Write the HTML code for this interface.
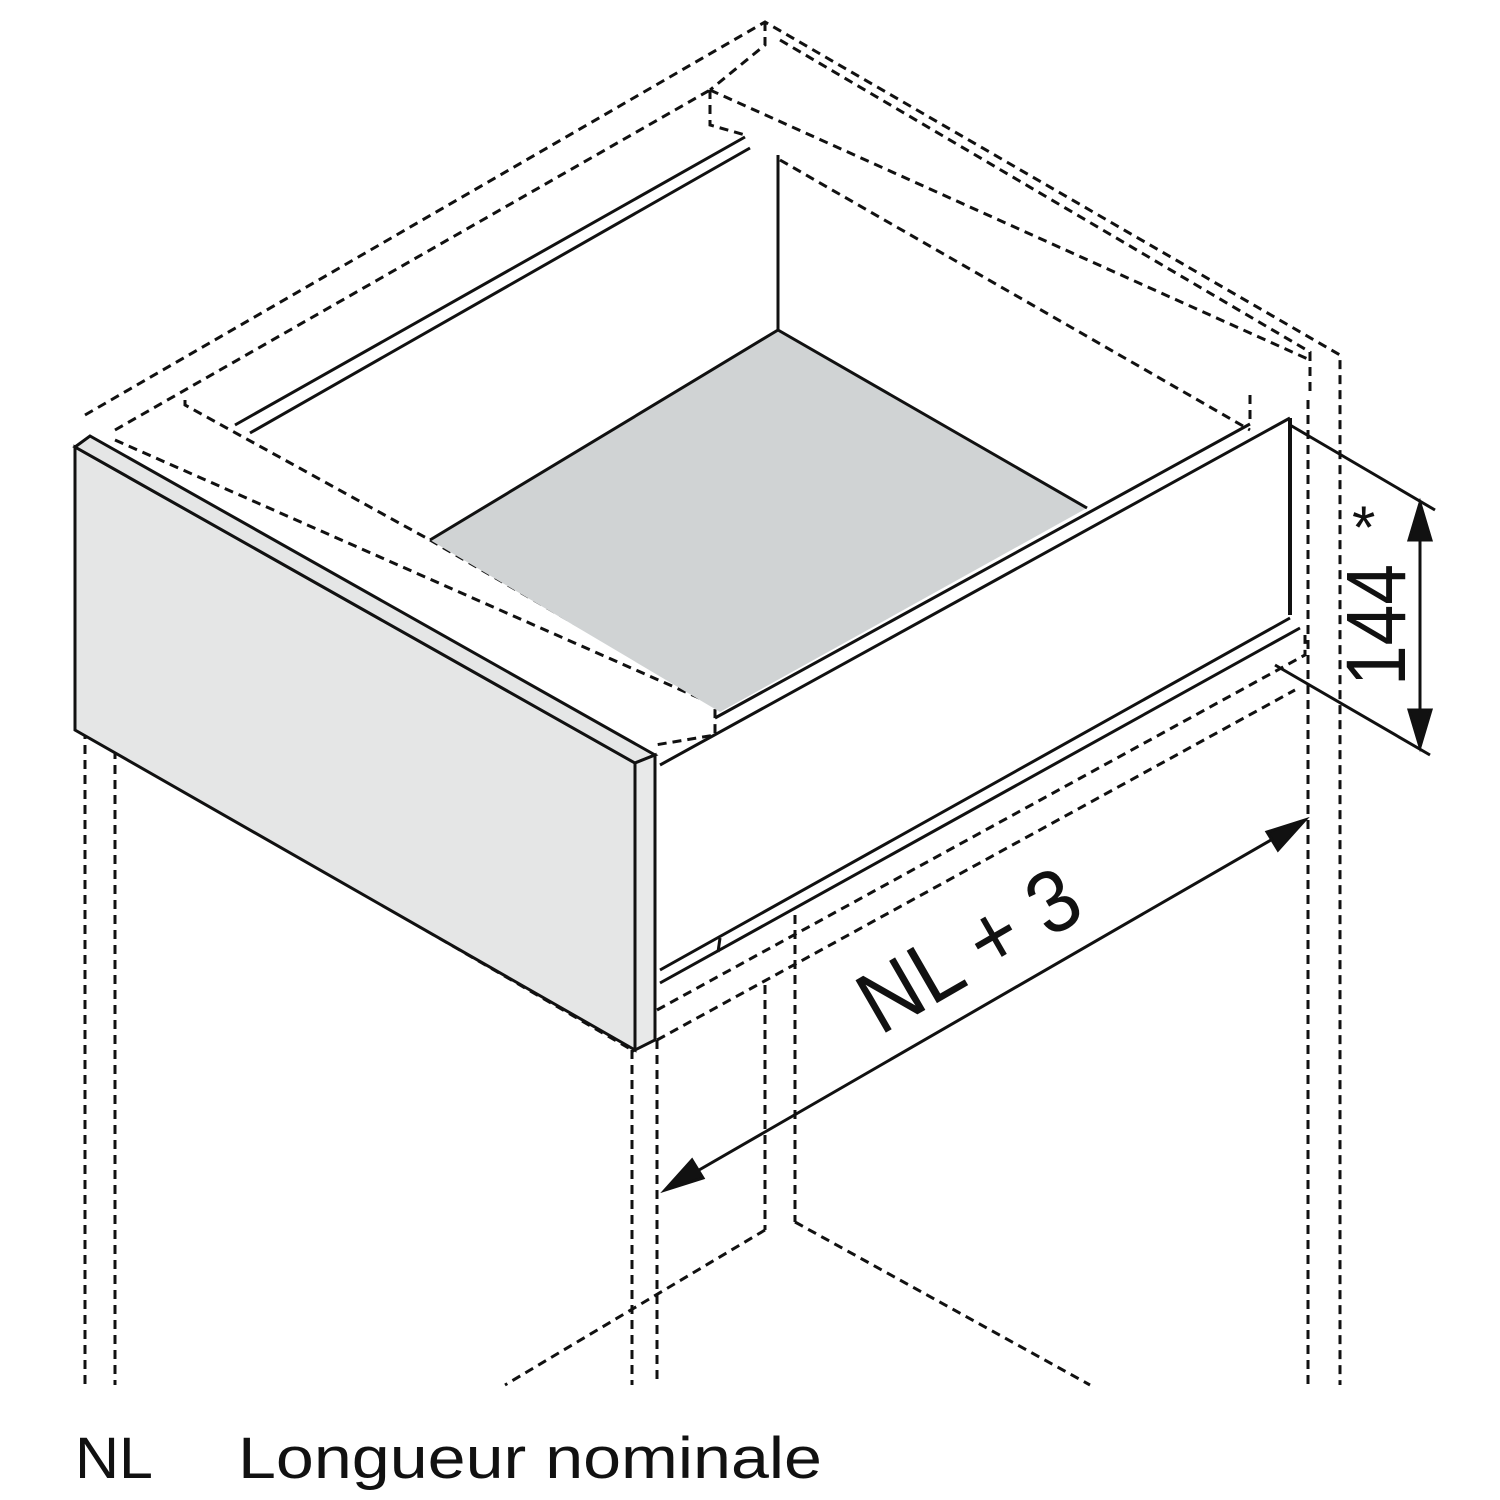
<!DOCTYPE html>
<html><head><style>
html,body{margin:0;padding:0;background:#fff;width:1500px;height:1500px;overflow:hidden}
svg{display:block}
text{font-family:"Liberation Sans",sans-serif;fill:#111}
</style></head><body>
<svg width="1500" height="1500" viewBox="0 0 1500 1500">
<g stroke="#111" stroke-width="3" fill="none" stroke-dasharray="9,6">
<polyline points="85,415 765,22 1340,355 1340,1385"/>
<polyline points="115,430 710,90"/>
<polyline points="780,40 1310,352 1310,395"/>
<polyline points="710,90 710,125 745,135"/>
<polyline points="765,22 765,45 710,90"/>
<polyline points="710,90 1310,360"/>
<polyline points="780,160 1250,430"/>
<polyline points="1250,395 1250,425"/>
<polyline points="185,400 185,405 430,540"/>
<polyline points="115,440 715,705 715,735 655,745"/>
<polyline points="430,540 715,705"/>
<line x1="85" y1="730" x2="85" y2="1385"/>
<line x1="115" y1="750" x2="115" y2="1385"/>
<line x1="632" y1="1050" x2="632" y2="1385"/>
<line x1="657" y1="1040" x2="657" y2="1385"/>
<line x1="765" y1="985" x2="765" y2="1230"/>
<line x1="795" y1="915" x2="795" y2="1222"/>
<line x1="1308" y1="400" x2="1308" y2="1385"/>
<line x1="115" y1="750" x2="632" y2="1050"/>
<polyline points="657,1010 1305,655 1305,635"/>
<polyline points="657,1040 1295,690"/>
<line x1="765" y1="1230" x2="505" y2="1385"/>
<line x1="795" y1="1222" x2="1090" y2="1385"/>
<line x1="655" y1="755" x2="655" y2="1040"/>
</g>
<polygon points="430,540 778,330 1087,508 720,712" fill="#d0d3d4" stroke="none"/>
<g stroke="#111" stroke-width="3" fill="none">
<line x1="430" y1="540" x2="778" y2="330"/>
<line x1="778" y1="330" x2="1087" y2="508"/>
<line x1="778" y1="155" x2="778" y2="330"/>
<line x1="235" y1="425" x2="745" y2="137"/>
<line x1="250" y1="433" x2="750" y2="148"/>
<line x1="660" y1="765" x2="1290" y2="418"/>
<line x1="715" y1="718" x2="1250" y2="424"/>
<line x1="1290" y1="418" x2="1290" y2="615" stroke-width="4"/>
<line x1="660" y1="970" x2="1290" y2="618"/>
<line x1="660" y1="983" x2="1300" y2="628"/>
<line x1="720" y1="938" x2="718" y2="952"/>
</g>
<polygon points="75,447 635,763 635,1050 75,730" fill="#e5e6e6" stroke="#111" stroke-width="3"/>
<polygon points="75,447 90,436 655,755 635,763" fill="#e5e6e6" stroke="#111" stroke-width="3"/>
<polygon points="635,763 655,755 655,1040 635,1050" fill="#e8e9e9" stroke="#111" stroke-width="3"/>
<g stroke="#111" stroke-width="3" fill="#111">
<line x1="680" y1="1181" x2="1290" y2="829"/>
<polygon points="665,1190 692,1160 703,1178"/>
<polygon points="1305,820 1278,850 1267,832"/>
<line x1="1290" y1="425" x2="1435" y2="510"/>
<line x1="1275" y1="665" x2="1430" y2="755"/>
<line x1="1420" y1="520" x2="1420" y2="730"/>
<polygon points="1420,503 1409,540 1431,540"/>
<polygon points="1420,747 1409,710 1431,710"/>
</g>
<text x="0" y="0" font-size="88" textLength="240" lengthAdjust="spacingAndGlyphs" transform="translate(880,1036) rotate(-30)">NL + 3</text>
<text x="0" y="0" font-size="84" textLength="122" lengthAdjust="spacingAndGlyphs" transform="translate(1405,686) rotate(-90)">144</text>
<text x="1352" y="548" font-size="60">*</text>
<text x="75" y="1478" font-size="58" textLength="78" lengthAdjust="spacingAndGlyphs">NL</text>
<text x="238" y="1478" font-size="58" textLength="584" lengthAdjust="spacingAndGlyphs">Longueur nominale</text>
</svg>
</body></html>
